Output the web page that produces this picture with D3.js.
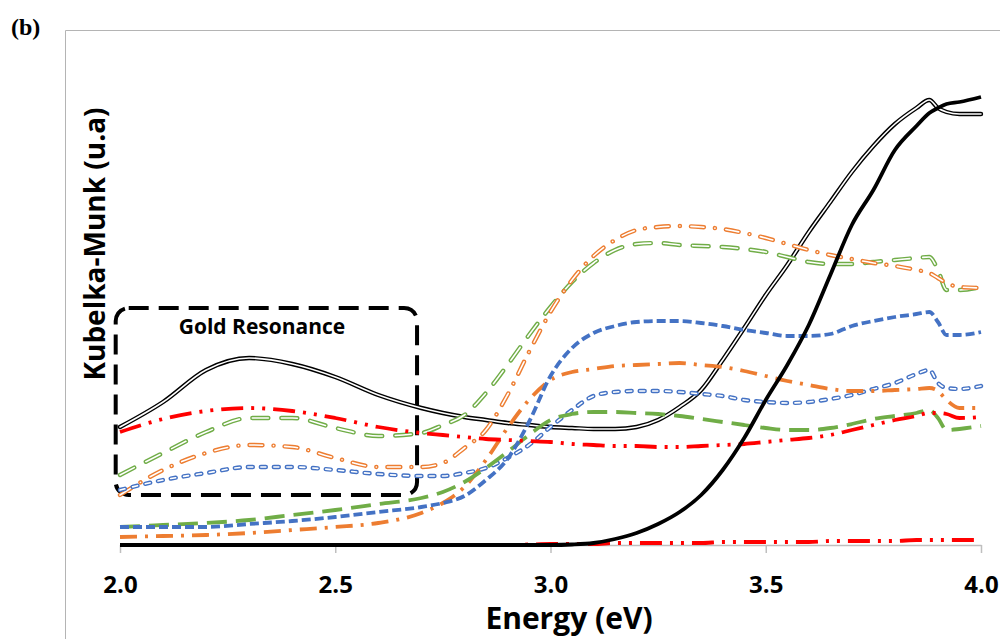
<!DOCTYPE html>
<html>
<head>
<meta charset="utf-8">
<script src="https://cdn.jsdelivr.net/npm/d3@7"></script>
<style>
  body { margin: 0; background: #fff; }
  text { font-family: "Open Sans", sans-serif; font-weight: 700; }
</style>
</head>
<body>
<svg width="1000" height="639"></svg>
<script>
// energy grid (eV)
var energy = [2.0,2.1,2.2,2.3,2.4,2.5,2.6,2.7,2.75,2.8,2.85,2.9,2.95,3.0,3.05,3.1,3.15,3.2,3.25,3.3,
              3.35,3.4,3.45,3.5,3.55,3.6,3.65,3.7,3.75,3.8,3.85,3.88,3.9,3.92,3.95,4.0];

// Kubelka-Munk values (u.a)
var blackHollow = [1.18,1.43,1.75,1.87,1.81,1.68,1.50,1.37,1.32,1.28,1.25,1.22,1.20,1.18,1.17,1.16,1.16,1.18,1.25,1.38,
                   1.55,1.85,2.17,2.50,2.80,3.13,3.43,3.73,3.99,4.21,4.37,4.45,4.37,4.33,4.31,4.31];
var blackSolid  = [0,0,0,0,0,0,0,0,0,0,0,0,0,0,0.005,0.02,0.06,0.12,0.21,0.33,
                   0.50,0.75,1.07,1.45,1.80,2.20,2.70,3.20,3.55,3.95,4.19,4.32,4.37,4.41,4.43,4.48];
var redHigh     = [1.13,1.26,1.34,1.37,1.34,1.27,1.18,1.12,1.10,1.08,1.06,1.05,1.04,1.03,1.01,1.00,0.99,0.99,0.98,0.98,
                   0.99,1.00,1.01,1.03,1.05,1.07,1.10,1.15,1.20,1.25,1.29,1.32,1.32,1.31,1.27,1.28];
var redLow      = [0,0,0,0,0,0,0,0,0,0,0,0,0.005,0.01,0.01,0.01,0.02,0.02,0.02,0.02,
                   0.02,0.03,0.03,0.03,0.03,0.03,0.04,0.04,0.04,0.04,0.05,0.05,0.05,0.05,0.05,0.05];
var greenHollow = [0.70,0.92,1.13,1.27,1.27,1.17,1.09,1.12,1.20,1.30,1.52,1.80,2.10,2.38,2.63,2.82,2.95,3.01,3.02,3.00,
                   2.99,2.98,2.96,2.93,2.88,2.83,2.81,2.81,2.83,2.85,2.87,2.88,2.75,2.55,2.55,2.58];
var orangeHollow= [0.50,0.75,0.92,1.00,0.98,0.87,0.78,0.78,0.82,0.97,1.15,1.50,1.93,2.33,2.65,2.89,3.05,3.15,3.18,3.19,
                   3.18,3.16,3.12,3.07,3.01,2.95,2.90,2.86,2.82,2.79,2.75,2.72,2.67,2.62,2.58,2.57];
var blueHollow  = [0.55,0.65,0.72,0.78,0.78,0.75,0.71,0.69,0.69,0.72,0.77,0.87,1.00,1.18,1.35,1.49,1.53,1.54,1.54,1.53,
                   1.51,1.49,1.45,1.43,1.42,1.43,1.46,1.50,1.56,1.62,1.71,1.75,1.62,1.57,1.56,1.59];
var blueSolid   = [0.18,0.18,0.18,0.21,0.24,0.28,0.33,0.38,0.42,0.49,0.65,0.86,1.23,1.69,1.97,2.12,2.19,2.23,2.24,2.24,
                   2.22,2.19,2.15,2.12,2.09,2.09,2.11,2.19,2.24,2.28,2.31,2.33,2.23,2.10,2.10,2.13];
var greenSolid  = [0.18,0.20,0.22,0.25,0.30,0.35,0.41,0.47,0.53,0.63,0.77,0.93,1.10,1.25,1.31,1.33,1.33,1.32,1.31,1.29,
                   1.26,1.23,1.20,1.17,1.15,1.15,1.17,1.21,1.26,1.29,1.32,1.35,1.27,1.15,1.16,1.19];
var orangeSolid = [0.08,0.09,0.10,0.12,0.15,0.18,0.22,0.32,0.42,0.58,0.85,1.17,1.45,1.65,1.73,1.76,1.79,1.80,1.81,1.82,
                   1.80,1.78,1.74,1.69,1.64,1.60,1.56,1.54,1.54,1.55,1.56,1.57,1.54,1.45,1.37,1.37];

var xTicks = [2.0, 2.5, 3.0, 3.5, 4.0];

// hollow lines use round caps, so their dash arrays are shorter than the solid ones
var series = [
  {vals: blackHollow,  color: "#000000", dash: null,                 hollow: true},
  {vals: greenHollow,  color: "#70AD47", dash: "16,13",              hollow: true},
  {vals: orangeHollow, color: "#ED7D31", dash: "13,11,0.1,11",       hollow: true},
  {vals: blueHollow,   color: "#4472C4", dash: "5,8",                hollow: true},
  {vals: redLow,       color: "#FF0000", dash: "22,8,3,8,3,8",       hollow: false},
  {vals: orangeSolid,  color: "#ED7D31", dash: "17,8,3,8",           hollow: false},
  {vals: greenSolid,   color: "#70AD47", dash: "20,9",               hollow: false},
  {vals: blueSolid,    color: "#4472C4", dash: "9,4",                hollow: false},
  {vals: redHigh,      color: "#FF0000", dash: "22,8,3,8,3,8",       hollow: false},
  {vals: blackSolid,   color: "#000000", dash: null,                 hollow: false}
];

var svg = d3.select("svg");

var x = d3.scaleLinear().domain([2.0, 4.0]).range([120, 981]);
var y = d3.scaleLinear().domain([0, 5.15]).range([545, 30]);

// chart frame (only top/left visible)
svg.append("path")
  .attr("d", "M65.5,639 L65.5,30.5 L1000,30.5")
  .attr("fill", "none")
  .attr("stroke", "#b4b4b4")
  .attr("stroke-width", 1);

svg.append("text")
  .attr("x", 11).attr("y", 35)
  .style("font-family", "'Liberation Serif', 'DejaVu Serif', serif")
  .style("font-size", "24px")
  .style("font-weight", "bold")
  .text("(b)");

// x axis
var xAxis = d3.axisBottom(x)
  .tickValues(xTicks)
  .tickFormat(d3.format(".1f"))
  .tickSize(8)
  .tickSizeOuter(0);

var gx = svg.append("g")
  .attr("transform", "translate(0,545)")
  .call(xAxis);
gx.select(".domain").attr("stroke", "#bfbfbf").attr("stroke-width", 1.5);
gx.selectAll(".tick line").attr("stroke", "#bfbfbf").attr("stroke-width", 1.5);
gx.selectAll(".tick text")
  .attr("y", 48).attr("dy", 0)
  .attr("fill", "#000")
  .style("font-family", "'Open Sans', sans-serif")
  .style("font-size", "24px")
  .style("font-weight", "bold");

svg.append("text")
  .attr("x", 569).attr("y", 629)
  .attr("text-anchor", "middle")
  .style("font-size", "30px")
  .text("Energy (eV)");

svg.append("text")
  .attr("transform", "translate(105,244) rotate(-90)")
  .attr("text-anchor", "middle")
  .style("font-size", "28px")
  .text("Kubelka-Munk (u.a)");

// gold resonance annotation
var boxE = [1.99, 2.69];
var boxV = [2.37, 0.50];
svg.append("rect")
  .attr("x", x(boxE[0])).attr("y", y(boxV[0]))
  .attr("width", x(boxE[1]) - x(boxE[0]))
  .attr("height", y(boxV[1]) - y(boxV[0]))
  .attr("rx", 13).attr("ry", 13)
  .attr("fill", "none")
  .attr("stroke", "#000")
  .attr("stroke-width", 4)
  .attr("stroke-dasharray", "20,10");

svg.append("text")
  .attr("x", 262).attr("y", 334)
  .attr("text-anchor", "middle")
  .style("font-size", "21px")
  .text("Gold Resonance");

var line = d3.line()
  .x(function(d) { return x(d[0]); })
  .y(function(d) { return y(d[1]); })
  .curve(d3.curveMonotoneX);

series.forEach(function(s) {
  var pts = energy.map(function(e, i) { return [e, s.vals[i]]; });
  svg.append("path")
    .attr("d", line(pts))
    .attr("fill", "none")
    .attr("stroke", s.color)
    .attr("stroke-width", s.hollow ? 4.4 : 3.8)
    .attr("stroke-linecap", s.hollow ? "round" : "butt")
    .attr("stroke-dasharray", s.dash);
  if (s.hollow) {
    svg.append("path")
      .attr("d", line(pts))
      .attr("fill", "none")
      .attr("stroke", "#fff")
      .attr("stroke-width", 1.6)
      .attr("stroke-linecap", "round")
      .attr("stroke-dasharray", s.dash);
  }
});
</script>
</body>
</html>
